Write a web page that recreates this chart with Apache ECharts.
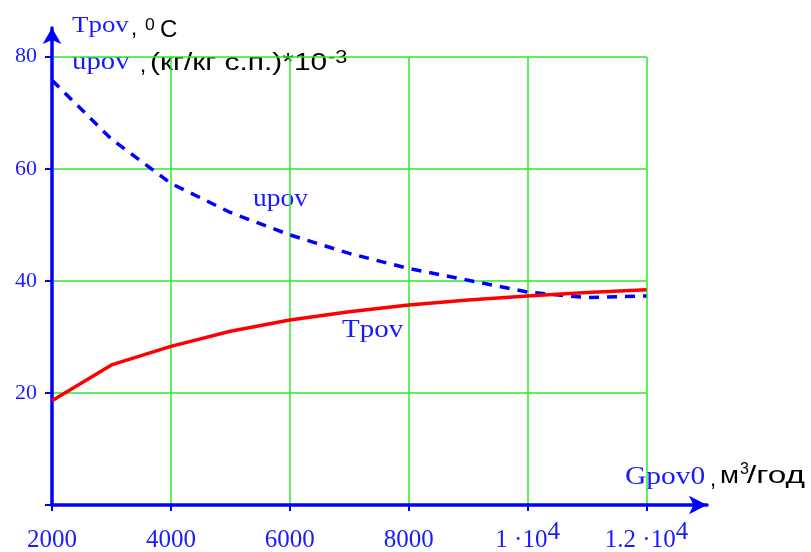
<!DOCTYPE html>
<html>
<head>
<meta charset="utf-8">
<script src="https://cdn.jsdelivr.net/npm/echarts@6/dist/echarts.min.js"></script>
<style>
  html, body { margin: 0; padding: 0; background: #fff; }
  #chart { width: 811px; height: 552px; }
</style>
</head>
<body>
<div id="chart"></div>
<script>
// Gpov0, м3/год
var gpov = [2000, 3000, 4000, 5000, 6000, 7000, 8000, 9000, 10000, 11000, 12000];
// Tpov, °C
var tpov = [18.6, 25.0, 28.3, 31.0, 33.0, 34.5, 35.7, 36.6, 37.3, 37.9, 38.4];
// upov, (кг/кг с.п.)*10^-3
var upov = [75.8, 65.3, 57.4, 52.2, 48.2, 44.9, 42.2, 40.1, 38.0, 37.0, 37.3];

var xTicks = { 2000: ['2000'], 4000: ['4000'], 6000: ['6000'], 8000: ['8000'], 10000: ['1 ·10', '4'], 12000: ['1.2 ·10', '4'] };

var BLUE = '#0000ff';
var TXT = '#1a1aff';
var GREEN = '#2ee82e';

function pairs(ys) {
  return gpov.map(function (x, i) { return [x, ys[i]]; });
}

function txt(x, y, s, font, fill, sx) {
  return { type: 'text', x: x, y: y, scaleX: sx || 1, style: { text: s, font: font, fill: fill, textVerticalAlign: 'middle', verticalAlign: 'middle' } };
}

var chart = echarts.init(document.getElementById('chart'));

var option = {
  animation: false,
  grid: [
    // data grid: gridlines stop at 12000 / 80
    { left: 52, right: 164.5, top: 56.7, bottom: 47, outerBoundsMode: 'none', containLabel: false },
    // axis lines with arrows
    { left: 52, right: 104, top: 28, bottom: 47, outerBoundsMode: 'none', containLabel: false }
  ],
  xAxis: [
    {
      type: 'value', gridIndex: 0, min: 2000, max: 12000, interval: 2000,
      axisLine: { show: false },
      axisTick: { show: true, length: 6, lineStyle: { color: BLUE, width: 2 } },
      splitLine: { show: true, lineStyle: { color: GREEN, width: 1.5 } },
      axisLabel: {
        margin: 14.5,
        formatter: function (v) {
          var t = xTicks[v];
          if (!t) return '';
          return t.length > 1 ? '{m|' + t[0] + '}{s|' + t[1] + '}' : '{m|' + t[0] + '}';
        },
        rich: {
          m: { fontFamily: 'Liberation Serif', fontSize: 25, color: TXT, lineHeight: 33, verticalAlign: 'bottom' },
          s: { fontFamily: 'Liberation Serif', fontSize: 25, color: TXT, lineHeight: 25, verticalAlign: 'top' }
        }
      }
    },
    {
      type: 'value', gridIndex: 1, min: 0, max: 1,
      axisLine: { show: true, symbol: ['none', 'arrow'], symbolSize: [14, 18], lineStyle: { color: BLUE, width: 3.5 } },
      axisTick: { show: false }, axisLabel: { show: false }, splitLine: { show: false }
    }
  ],
  yAxis: [
    {
      type: 'value', gridIndex: 0, min: 0, max: 80, interval: 20,
      axisLine: { show: false },
      axisTick: { show: true, length: 7, lineStyle: { color: BLUE, width: 2 } },
      splitLine: { show: true, lineStyle: { color: GREEN, width: 1.5 } },
      axisLabel: {
        margin: 15, fontFamily: 'Liberation Serif', fontSize: 22, color: TXT,
        formatter: function (v) { return v === 0 ? '' : String(v); }
      }
    },
    {
      type: 'value', gridIndex: 1, min: 0, max: 1,
      axisLine: { show: true, symbol: ['none', 'arrow'], symbolSize: [14, 16], lineStyle: { color: BLUE, width: 3.5 } },
      axisTick: { show: false }, axisLabel: { show: false }, splitLine: { show: false }
    }
  ],
  series: [
    {
      name: 'Tpov', type: 'line', xAxisIndex: 0, yAxisIndex: 0,
      data: pairs(tpov), showSymbol: false, smooth: false, z: 5,
      lineStyle: { color: '#ff0000', width: 3.5 }
    },
    {
      name: 'upov', type: 'line', xAxisIndex: 0, yAxisIndex: 0,
      data: pairs(upov), showSymbol: false, smooth: false, z: 4,
      lineStyle: { color: BLUE, width: 3.5, type: [10, 8], cap: 'butt' }
    }
  ],
  graphic: [
    // y-axis title, line 1
    txt(72, 26, 'Tpov', '23px "Liberation Serif"', TXT, 1.17),
    txt(131, 29, ',', '22px "Liberation Sans"', '#000'),
    txt(145, 26, '0', '16px "Liberation Sans"', '#000', 1.1),
    txt(160, 30, 'C', '24px "Liberation Sans"', '#000'),
    // y-axis title, line 2
    txt(72, 62, 'upov', '25px "Liberation Serif"', TXT, 1.15),
    txt(140, 66, ',', '22px "Liberation Sans"', '#000'),
    txt(150, 64, '(кг/кг с.п.)*10', '23px "Liberation Sans"', '#000', 1.3),
    txt(328, 58.5, '-3', '18px "Liberation Sans"', '#000', 1.2),
    // x-axis title
    txt(625, 477, 'Gpov0', '25px "Liberation Serif"', TXT, 1.18),
    txt(710, 480, ',', '22px "Liberation Sans"', '#000'),
    txt(720, 477, 'м', '23px "Liberation Sans"', '#000', 1.2),
    txt(740, 470, '3', '16px "Liberation Sans"', '#000'),
    txt(747, 477, '/год', '23px "Liberation Sans"', '#000', 1.45),
    // curve labels
    txt(253, 199, 'upov', '25px "Liberation Serif"', TXT, 1.1),
    txt(342, 330, 'Tpov', '25px "Liberation Serif"', TXT, 1.16)
  ]
};

chart.setOption(option);
</script>
</body>
</html>
